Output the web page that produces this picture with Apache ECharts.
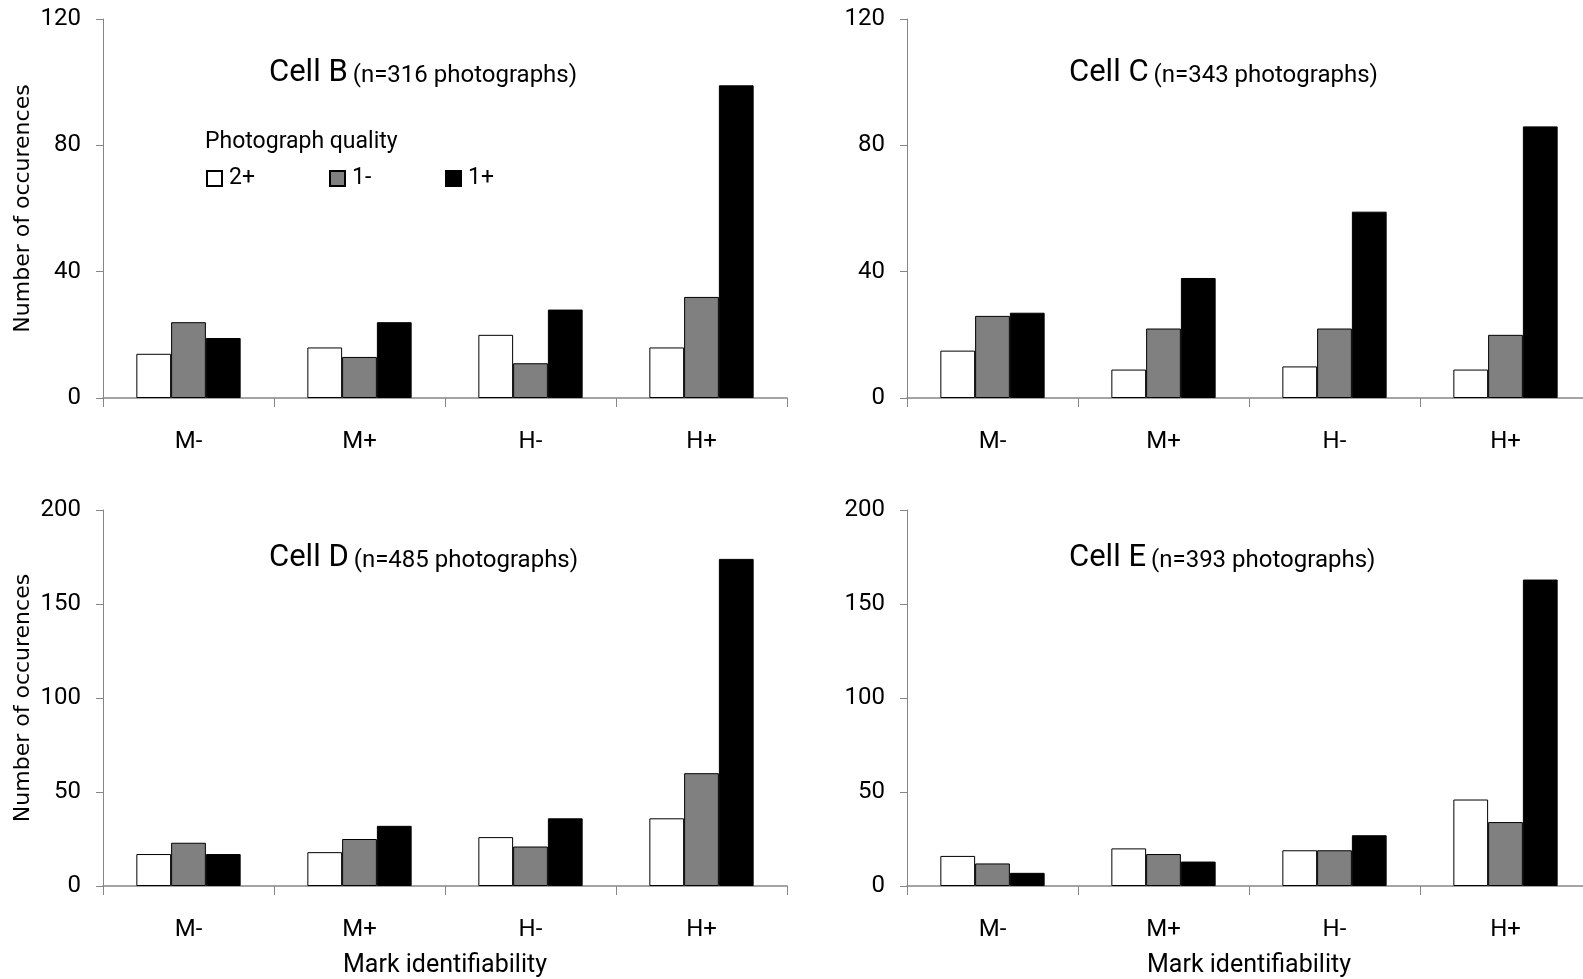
<!DOCTYPE html>
<html>
<head>
<meta charset="utf-8">
<script src="https://cdn.jsdelivr.net/npm/echarts@6/dist/echarts.min.js"></script>
<style>html,body{margin:0;padding:0;background:#fff;overflow:hidden}#c{width:1600px;height:979px}</style>
</head>
<body>
<div id="c"></div>
<script>
const categories = ['M-', 'M+', 'H-', 'H+'];
const qualityNames = ['2+', '1-', '1+'];
const yTicksTop = [0, 40, 80, 120];
const yTicksBottom = [0, 50, 100, 150, 200];

const cellB_2plus  = [14, 16, 20, 16];
const cellB_1minus = [24, 13, 11, 32];
const cellB_1plus  = [19, 24, 28, 99];

const cellC_2plus  = [15, 9, 10, 9];
const cellC_1minus = [26, 22, 22, 20];
const cellC_1plus  = [27, 38, 59, 86];

const cellD_2plus  = [17, 18, 26, 36];
const cellD_1minus = [23, 25, 21, 60];
const cellD_1plus  = [17, 32, 36, 174];

const cellE_2plus  = [16, 20, 19, 46];
const cellE_1minus = [12, 17, 19, 34];
const cellE_1plus  = [7, 13, 27, 163];

const cellTitles = ['Cell B', 'Cell C', 'Cell D', 'Cell E'];
const cellCounts = ['(n=316 photographs)', '(n=343 photographs)', '(n=485 photographs)', '(n=393 photographs)'];

const panelData = [
  [cellB_2plus, cellB_1minus, cellB_1plus],
  [cellC_2plus, cellC_1minus, cellC_1plus],
  [cellD_2plus, cellD_1minus, cellD_1plus],
  [cellE_2plus, cellE_1minus, cellE_1plus]
];
const panelTicks = [yTicksTop, yTicksTop, yTicksBottom, yTicksBottom];

// layout
const NARROW = 'Roboto, "Noto Sans", sans-serif';
const AXIS_COLOR = '#868686';
const gridLayout = [
  {left: 103, top: 19, width: 684, height: 379},
  {left: 907, top: 19, width: 684, height: 379},
  {left: 103, top: 510, width: 684, height: 378},
  {left: 907, top: 510, width: 684, height: 378}
];
const titlePos = [
  {left: 264, top: 53}, {left: 1064, top: 53},
  {left: 264, top: 538}, {left: 1064, top: 538}
];
const fills = ['#ffffff', '#808080', '#000000'];

const grids = [], xAxes = [], yAxes = [], series = [], titles = [];
for (let i = 0; i < 4; i++) {
  grids.push(Object.assign({containLabel: false}, gridLayout[i]));
  const bottomRow = i >= 2;
  const leftCol = i % 2 === 0;
  xAxes.push({
    type: 'category', gridIndex: i, data: categories,
    axisLine: {lineStyle: {color: AXIS_COLOR, width: 1.5}},
    axisTick: {show: true, length: 9, lineStyle: {color: AXIS_COLOR}},
    axisLabel: {color: '#000', fontFamily: NARROW, fontSize: 24, margin: 32},
    name: bottomRow ? 'Mark identifiability' : '',
    nameLocation: 'middle', nameGap: 67,
    nameTextStyle: {color: '#000', fontFamily: NARROW, fontSize: 25}
  });
  const ticks = panelTicks[i];
  yAxes.push({
    type: 'value', gridIndex: i, min: ticks[0], max: ticks[ticks.length - 1],
    interval: ticks[1] - ticks[0],
    axisLine: {show: true, lineStyle: {color: AXIS_COLOR, width: 1}},
    axisTick: {show: true, length: 7, lineStyle: {color: AXIS_COLOR}},
    splitLine: {show: false},
    axisLabel: {color: '#000', fontFamily: NARROW, fontSize: 24, margin: 22},
    name: leftCol ? 'Number of occurences' : '',
    nameLocation: 'middle', nameGap: 69, nameRotate: 90,
    nameTextStyle: {color: '#000', fontFamily: '"DejaVu Sans", sans-serif', fontSize: 22}
  });
  for (let s = 0; s < 3; s++) {
    series.push({
      type: 'bar', name: qualityNames[s], xAxisIndex: i, yAxisIndex: i,
      data: panelData[i][s],
      barGap: '0%', barCategoryGap: '39%',
      itemStyle: {color: fills[s], borderColor: '#000', borderWidth: 1},
      emphasis: {disabled: true}
    });
  }
  titles.push({
    text: '{a|' + cellTitles[i] + '} {b|' + cellCounts[i] + '}',
    left: titlePos[i].left, top: titlePos[i].top,
    textStyle: {
      fontWeight: 'normal',
      rich: {
        a: {fontFamily: NARROW, fontSize: 31, fontWeight: 'normal', color: '#000', verticalAlign: 'bottom'},
        b: {fontFamily: NARROW, fontSize: 24, fontWeight: 'normal', color: '#000', verticalAlign: 'bottom', padding: [0, 0, 1, 0]}
      }
    }
  });
}
titles.push({
  text: 'Photograph quality', left: 200, top: 126,
  textStyle: {fontFamily: NARROW, fontSize: 23, fontWeight: 'normal', color: '#000'}
});

const legendLefts = [201, 324, 440];
const legends = qualityNames.map((n, k) => ({
  data: [n], left: legendLefts[k], top: 162,
  itemWidth: 15, itemHeight: 15, itemGap: 5,
  icon: 'rect',
  textStyle: {fontFamily: NARROW, fontSize: 23, color: '#000', padding: [0, 0, 0, 2]},
  selectedMode: false
}));

const chart = echarts.init(document.getElementById('c'), null, {renderer: 'canvas'});
chart.setOption({
  animation: false,
  backgroundColor: '#fff',
  title: titles,
  legend: legends,
  grid: grids,
  xAxis: xAxes,
  yAxis: yAxes,
  series: series
});
</script>
</body>
</html>
